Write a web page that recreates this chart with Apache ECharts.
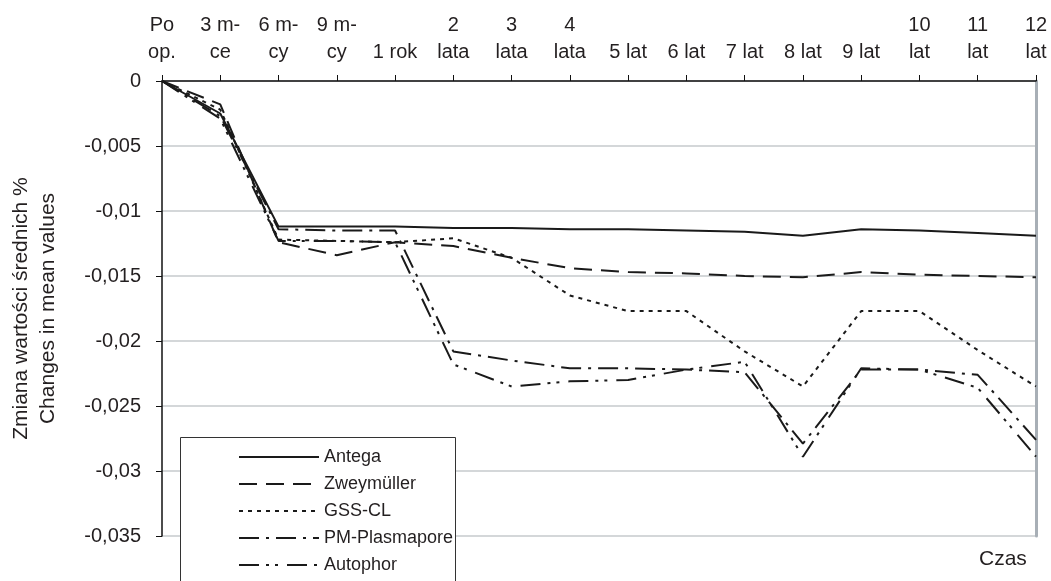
<!DOCTYPE html>
<html>
<head>
<meta charset="utf-8">
<script src="https://cdn.jsdelivr.net/npm/echarts@6/dist/echarts.min.js"></script>
<style>html,body{margin:0;padding:0;background:#fff}#c{width:1051px;height:581px}</style>
</head>
<body>
<div id="c"></div>
<script>
var categories = ['Po\nop.','3 m-\nce','6 m-\ncy','9 m-\ncy','1 rok','2\nlata','3\nlata','4\nlata','5 lat','6 lat','7 lat','8 lat','9 lat','10\nlat','11\nlat','12\nlat'];
var seriesNames = ['Antega','Zweymüller','GSS-CL','PM-Plasmapore','Autophor'];
var antega = [0,-0.0025,-0.0112,-0.0112,-0.0112,-0.0113,-0.0113,-0.0114,-0.0114,-0.0115,-0.0116,-0.0119,-0.0114,-0.0115,-0.0117,-0.0119];
var zweymuller = [0,-0.0018,-0.0124,-0.0134,-0.0124,-0.0127,-0.0136,-0.0144,-0.0147,-0.0148,-0.0150,-0.0151,-0.0147,-0.0149,-0.0150,-0.0151];
var gsscl = [0,-0.0022,-0.0122,-0.0123,-0.0124,-0.0121,-0.0136,-0.0165,-0.0177,-0.0177,-0.0208,-0.0235,-0.0177,-0.0177,-0.0207,-0.0235];
var plasmapore = [0,-0.0027,-0.0114,-0.0115,-0.0115,-0.0208,-0.0215,-0.0221,-0.0221,-0.0222,-0.0224,-0.0279,-0.0222,-0.0222,-0.0226,-0.0276];
var autophor = [0,-0.0029,-0.0123,-0.0123,-0.0124,-0.0218,-0.0235,-0.0231,-0.0230,-0.0222,-0.0216,-0.0289,-0.0221,-0.0222,-0.0236,-0.0289];
var yMin = -0.035, yMax = 0, yStep = 0.005;

var FONT = 'Liberation Sans';
var INK = '#231f20';
var dashTypes = ['solid', [18, 9], [4, 5], [20, 7, 3, 7], [20, 7, 3, 6, 3, 9]];
var dataSets = [antega, zweymuller, gsscl, plasmapore, autophor];

var chart = echarts.init(document.getElementById('c'));
chart.setOption({
  animation: false,
  backgroundColor: '#fff',
  textStyle: {fontFamily: FONT, color: INK},
  grid: {left: 160, right: 15, top: 81, bottom: 45, containLabel: false},
  graphic: [
    {type: 'rect', z: 3, shape: {x: 180.5, y: 437.5, width: 275, height: 160},
     style: {fill: '#fff', stroke: '#333', lineWidth: 1}},
    {type: 'text', z: 5, left: 979, top: 549,
     style: {text: 'Czas', font: '21px "' + FONT + '"', fill: INK}}
  ],
  legend: {
    show: true, orient: 'vertical', left: 180, top: 437, z: 6,
    padding: [10, 10, 0, 58], itemWidth: 80, itemHeight: 14, itemGap: 7,
    itemStyle: {opacity: 0},
    textStyle: {fontFamily: FONT, fontSize: 18, color: INK, lineHeight: 20},
    data: seriesNames
  },
  xAxis: {
    type: 'category', position: 'top', boundaryGap: false, data: categories,
    axisLine: {lineStyle: {color: '#111', width: 1.5}},
    axisTick: {show: true, inside: false, length: 6, lineStyle: {color: '#111', width: 1}},
    axisLabel: {interval: 0, fontFamily: FONT, fontSize: 20, lineHeight: 27, color: INK, margin: 15},
    splitLine: {show: false}
  },
  yAxis: [{
    type: 'value', min: yMin, max: yMax, interval: yStep,
    name: 'Zmiana wartości średnich %\nChanges in mean values',
    nameLocation: 'middle', nameRotate: 90, nameGap: 100,
    nameTextStyle: {fontFamily: FONT, fontSize: 21, lineHeight: 27, color: INK},
    axisLine: {show: true, lineStyle: {color: '#111', width: 1.5}},
    axisTick: {show: true, length: 6, lineStyle: {color: '#111', width: 1}},
    axisLabel: {fontFamily: FONT, fontSize: 20, color: INK, margin: 21,
      formatter: function (v) { var r = Math.round(v * 1000) / 1000; return String(r).replace('.', ','); }},
    splitLine: {show: true, lineStyle: {color: '#c6cacd', width: 1.5}}
  }, {
    type: 'value', position: 'right', min: yMin, max: yMax, interval: yStep,
    axisLine: {show: true, lineStyle: {color: '#a8afb6', width: 3}},
    axisTick: {show: false}, axisLabel: {show: false}, splitLine: {show: false}
  }],
  series: seriesNames.map(function (n, i) {
    return {
      name: n, type: 'line', data: dataSets[i], symbol: 'none', showSymbol: false,
      z: 10 - i,
      lineStyle: {color: '#1a1a1a', width: 2, type: dashTypes[i]},
      itemStyle: {color: '#1a1a1a'}
    };
  })
});
</script>
</body>
</html>
